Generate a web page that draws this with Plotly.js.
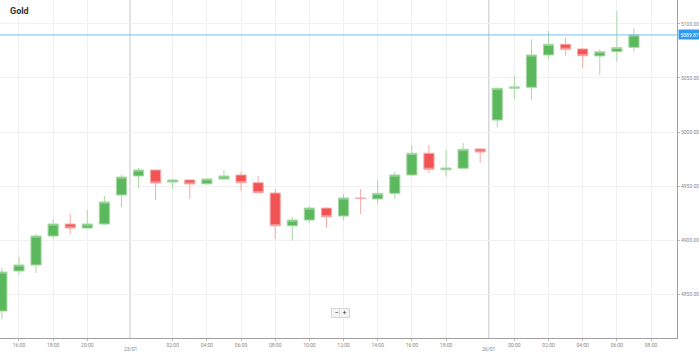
<!DOCTYPE html>
<html>
<head>
<meta charset="utf-8">
<script src="https://cdn.plot.ly/plotly-3.0.1.min.js"></script>
<style>html,body{margin:0;padding:0;background:#fff}#chart{width:699px;height:357px}</style>
</head>
<body>
<div id="chart"></div>
<script>
const times = ['22/01 15:00','22/01 16:00','22/01 17:00','22/01 18:00','22/01 19:00','22/01 20:00','22/01 21:00','22/01 23:00',
  '23/01 00:00','23/01 01:00','23/01 02:00','23/01 03:00','23/01 04:00','23/01 05:00','23/01 06:00','23/01 07:00',
  '23/01 08:00','23/01 09:00','23/01 10:00','23/01 11:00','23/01 12:00','23/01 13:00','23/01 14:00','23/01 15:00',
  '23/01 16:00','23/01 17:00','23/01 18:00','23/01 19:00','23/01 20:00',
  '25/01 23:00','26/01 00:00','26/01 01:00','26/01 02:00','26/01 03:00','26/01 04:00','26/01 05:00','26/01 06:00','26/01 07:00'];
const emptySlots = ['26/01 08:00','26/01 09:00'];
const openP  = [4834.3,4871.3,4876.9,4903.7,4914.8,4911.1,4914.8,4941.7,4959.3,4964.8,4953.7,4955.6,4952.0,4956.5,4960.2,4953.1,4943.5,4913.2,4918.5,4929.6,4922.2,4938.9,4938.0,4943.2,4960.2,4980.3,4965.0,4966.4,4984.3,5011.1,5040.5,5041.4,5071.3,5081.2,5076.9,5070.4,5074.4,5078.4];
const highP  = [4874.1,4884.3,4905.6,4919.4,4924.1,4927.8,4940.7,4960.2,4966.7,4965.5,4956.5,4956.0,4957.0,4964.8,4963.2,4959.3,4947.2,4921.3,4931.5,4930.2,4942.6,4947.2,4955.6,4963.0,4988.0,4988.0,4983.3,4989.8,4985.0,5041.0,5051.9,5085.8,5093.5,5087.7,5077.2,5076.6,5112.0,5096.0];
const lowP   = [4826.9,4867.6,4869.4,4900.9,4905.6,4910.5,4914.0,4930.6,4948.1,4937.0,4947.2,4938.0,4951.5,4956.0,4945.4,4943.4,4900.9,4899.4,4915.7,4911.4,4917.9,4924.1,4933.3,4938.0,4959.8,4962.0,4958.6,4966.0,4971.3,5004.4,5030.8,5029.6,5067.3,5070.6,5059.0,5052.8,5065.1,5074.4];
const closeP = [4870.4,4876.9,4903.7,4914.8,4911.1,4914.8,4935.2,4958.3,4964.8,4952.8,4955.6,4951.9,4956.5,4959.3,4953.1,4943.8,4913.2,4918.5,4929.6,4921.6,4938.9,4938.4,4943.2,4960.2,4980.3,4965.5,4966.7,4984.0,4981.5,5040.5,5041.7,5071.3,5081.2,5076.6,5070.6,5074.4,5078.1,5089.87];
const lastPrice = 5089.87;
const tickCats = ['22/01 16:00','22/01 18:00','22/01 20:00','23/01 02:00','23/01 04:00','23/01 06:00','23/01 08:00','23/01 10:00','23/01 12:00','23/01 14:00','23/01 16:00','23/01 18:00','26/01 00:00','26/01 02:00','26/01 04:00','26/01 06:00','26/01 08:00'];
const tickText = ['16:00','18:00','20:00','02:00','04:00','06:00','08:00','10:00','12:00','14:00','16:00','18:00','00:00','02:00','04:00','06:00','08:00'];
const dayLabels = ['23/01','26/01'];
const dayStarts = ['23/01 00:00','25/01 23:00'];
const yTicks = [4850,4900,4950,5000,5050,5100];

const allCats = times.concat(emptySlots);
const dayPos = dayStarts.map(d => allCats.indexOf(d) - 0.5);

const font = 'Roboto, "Open Sans", sans-serif';
const trace = {
  type: 'candlestick', x: times, open: openP, high: highP, low: lowP, close: closeP,
  increasing: {line: {color: '#a6d9a6', width: 1}, fillcolor: '#5cb85c'},
  decreasing: {line: {color: '#f8a8a8', width: 1}, fillcolor: '#f25454'},
  whiskerwidth: 0, hoverinfo: 'skip'
};

const shapes = dayPos.map(p => ({type: 'line', xref: 'x', yref: 'paper', x0: p, x1: p, y0: 0, y1: 1,
  line: {color: '#d8d8d8', width: 1.5}, layer: 'below'}));
shapes.push({type: 'line', xref: 'paper', yref: 'y', x0: 0, x1: 1, y0: lastPrice, y1: lastPrice,
  line: {color: '#7cbdf0', width: 1}});

const annotations = dayPos.map((p, i) => ({xref: 'x', yref: 'paper', x: p, y: 0, yshift: -16,
  text: dayLabels[i], showarrow: false, font: {family: font, size: 5, color: '#888'}}));
annotations.push({xref: 'paper', yref: 'y', x: 1, y: lastPrice, xanchor: 'left', xshift: 1,
  text: lastPrice.toFixed(2), showarrow: false, bgcolor: '#2e9bf0', borderpad: 1.5,
  font: {family: font, size: 5, color: '#ffffff'}});
annotations.push({xref: 'paper', yref: 'paper', x: 0.4975, y: 0.058, text: '−', showarrow: false,
  bgcolor: '#f4f4f4', bordercolor: '#d6d6d6', borderwidth: 1, borderpad: 1, width: 7, height: 6,
  font: {family: font, size: 7, color: '#333'}});
annotations.push({xref: 'paper', yref: 'paper', x: 0.5095, y: 0.058, text: '+', showarrow: false,
  bgcolor: '#f4f4f4', bordercolor: '#d6d6d6', borderwidth: 1, borderpad: 1, width: 7, height: 6,
  font: {family: font, size: 7, color: '#333'}});

const layout = {
  width: 699, height: 357,
  margin: {l: 0, r: 22, t: 0, b: 19},
  paper_bgcolor: '#ffffff', plot_bgcolor: '#ffffff',
  showlegend: false, hovermode: false, boxgap: 0.15,
  title: {text: '<b>Gold</b>', x: 10/699, xanchor: 'left', y: 1 - 11/357, yanchor: 'middle', yref: 'container',
    font: {family: font, size: 9, color: '#333'}},
  xaxis: {type: 'category', categoryorder: 'array', categoryarray: allCats,
    range: [-0.11, 39.52], rangeslider: {visible: false},
    tickmode: 'array', tickvals: tickCats, ticktext: tickText,
    ticks: 'outside', ticklen: 2, tickcolor: '#bbb',
    showgrid: true, gridcolor: '#f1f1f1', gridwidth: 1,
    showline: true, linecolor: '#a0a0a0', linewidth: 1,
    tickfont: {family: font, size: 5, color: '#888'}, fixedrange: true},
  yaxis: {side: 'right', range: [4809.3, 5122.2], tickmode: 'array', tickvals: yTicks,
    tickformat: '.2f', ticks: 'outside', ticklen: 2, tickcolor: '#bbb',
    showgrid: true, gridcolor: '#f1f1f1', gridwidth: 1, zeroline: false,
    showline: true, linecolor: '#a0a0a0', linewidth: 1,
    tickfont: {family: font, size: 5, color: '#888'}, fixedrange: true},
  shapes: shapes, annotations: annotations
};
Plotly.newPlot('chart', [trace], layout, {displayModeBar: false, staticPlot: true});
</script>
</body>
</html>
